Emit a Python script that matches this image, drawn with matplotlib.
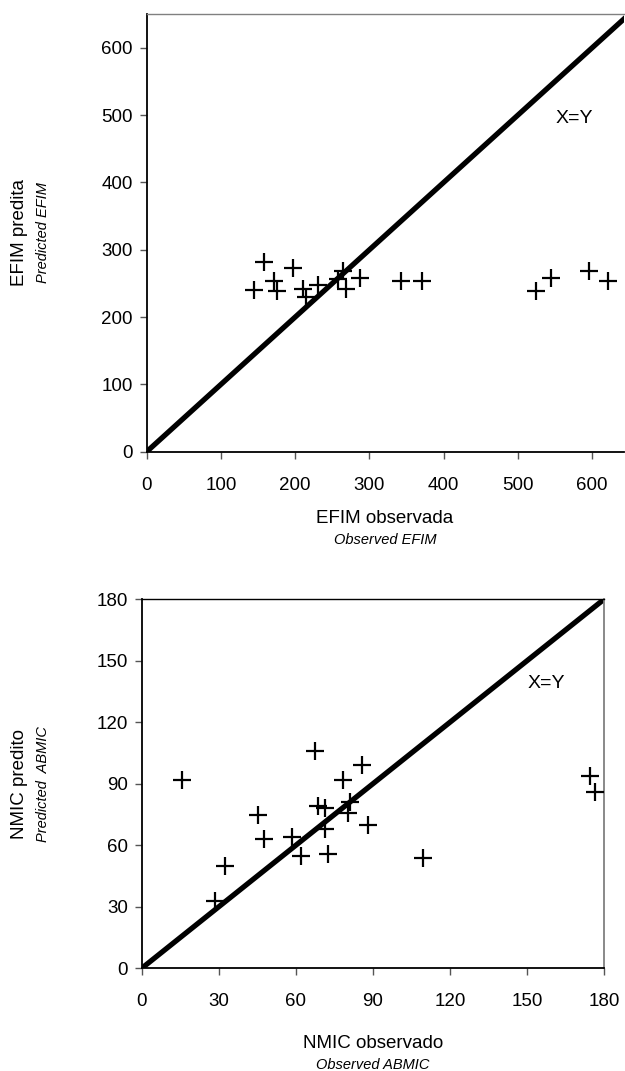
import matplotlib.pyplot as plt

plt.rcParams['font.family'] = ['Liberation Sans', 'DejaVu Sans']

# EFIM: observed vs predicted
efim_obs = [158, 144, 171, 176, 197, 210, 215, 231, 265, 258, 269, 287, 343, 371, 525, 545, 596, 621]
efim_pred = [282, 240, 253, 239, 273, 241, 230, 248, 268, 256, 241, 258, 254, 253, 239, 258, 269, 254]
efim_ticks = [0, 100, 200, 300, 400, 500, 600]

# NMIC / ABMIC: observed vs predicted
nmic_obs = [15.6, 45.2, 47.8, 32.4, 28.5, 58.4, 62.0, 67.6, 68.5, 71.4, 71.4, 72.7,
            78.3, 85.7, 81.1, 80.5, 88.0, 109.4, 174.6, 176.5]
nmic_pred = [92, 75, 63, 50, 33, 64, 55, 106, 79, 78, 68, 56,
             92, 99, 81, 76, 70, 54, 94, 86]
nmic_ticks = [0, 30, 60, 90, 120, 150, 180]

W, H = 625, 1071
fig = plt.figure(figsize=(W / 100, H / 100), dpi=100)


def px_axes(x0, y0, x1, y1):
    return fig.add_axes([x0 / W, 1 - y1 / H, (x1 - x0) / W, (y1 - y0) / H])


def style(ax, right_visible):
    for s in ['left', 'bottom']:
        ax.spines[s].set_color('black')
        ax.spines[s].set_linewidth(1.3)
    ax.spines['top'].set_color('#808080')
    ax.spines['top'].set_linewidth(1.0)
    ax.spines['right'].set_visible(right_visible)
    ax.spines['right'].set_color('#808080')
    ax.spines['right'].set_linewidth(1.3)
    ax.tick_params(direction='out', length=5, width=1, color='#555555',
                   labelsize=13.5)
    ax.tick_params(axis='x', pad=13)
    ax.tick_params(axis='y', pad=5)


# top panel
ax1 = px_axes(146.7, 13.5, 624, 451.7)
ax1.plot([0, 650], [0, 650], color='black', lw=3.8, solid_capstyle='butt', zorder=2)
ax1.plot(efim_obs, efim_pred, linestyle='none', marker='+', markersize=13,
         markeredgewidth=1.6, color='black', zorder=3)
ax1.set_xlim(0, 643)
ax1.set_ylim(0, 651)
ax1.set_xticks(efim_ticks)
ax1.set_yticks(efim_ticks)
style(ax1, False)
ax1.text(576, 495, 'X=Y', fontsize=14, ha='center', va='center')

fig.text(20 / W, 1 - 232.6 / H, 'EFIM predita', rotation=90, fontsize=13.5,
         ha='center', va='center')
fig.text(43 / W, 1 - 232.6 / H, 'Predicted EFIM', rotation=90, fontsize=10.5,
         style='italic', ha='center', va='center')
fig.text(385 / W, 1 - 518 / H, 'EFIM observada', fontsize=13.5, ha='center', va='center')
fig.text(385 / W, 1 - 540 / H, 'Observed EFIM', fontsize=10.5, style='italic',
         ha='center', va='center')

# bottom panel
ax2 = px_axes(141.7, 599.3, 604, 968.3)
ax2.plot([0, 180], [0, 180], color='black', lw=3.8, solid_capstyle='butt', zorder=2)
ax2.plot(nmic_obs, nmic_pred, linestyle='none', marker='+', markersize=13,
         markeredgewidth=1.6, color='black', zorder=3, clip_on=False)
ax2.set_xlim(0, 180)
ax2.set_ylim(0, 180)
ax2.set_xticks(nmic_ticks)
ax2.set_yticks(nmic_ticks)
style(ax2, True)
ax2.spines['top'].set_color('black')
ax2.text(157.7, 139, 'X=Y', fontsize=14, ha='center', va='center')

fig.text(20 / W, 1 - 783.8 / H, 'NMIC predito', rotation=90, fontsize=13.5,
         ha='center', va='center')
fig.text(43 / W, 1 - 783.8 / H, 'Predicted  ABMIC', rotation=90, fontsize=10.5,
         style='italic', ha='center', va='center')
fig.text(373 / W, 1 - 1044 / H, 'NMIC observado', fontsize=13.5, ha='center', va='center')
fig.text(373 / W, 1 - 1065 / H, 'Observed ABMIC', fontsize=10.5, style='italic',
         ha='center', va='center')

fig.savefig('out.png', dpi=100)
